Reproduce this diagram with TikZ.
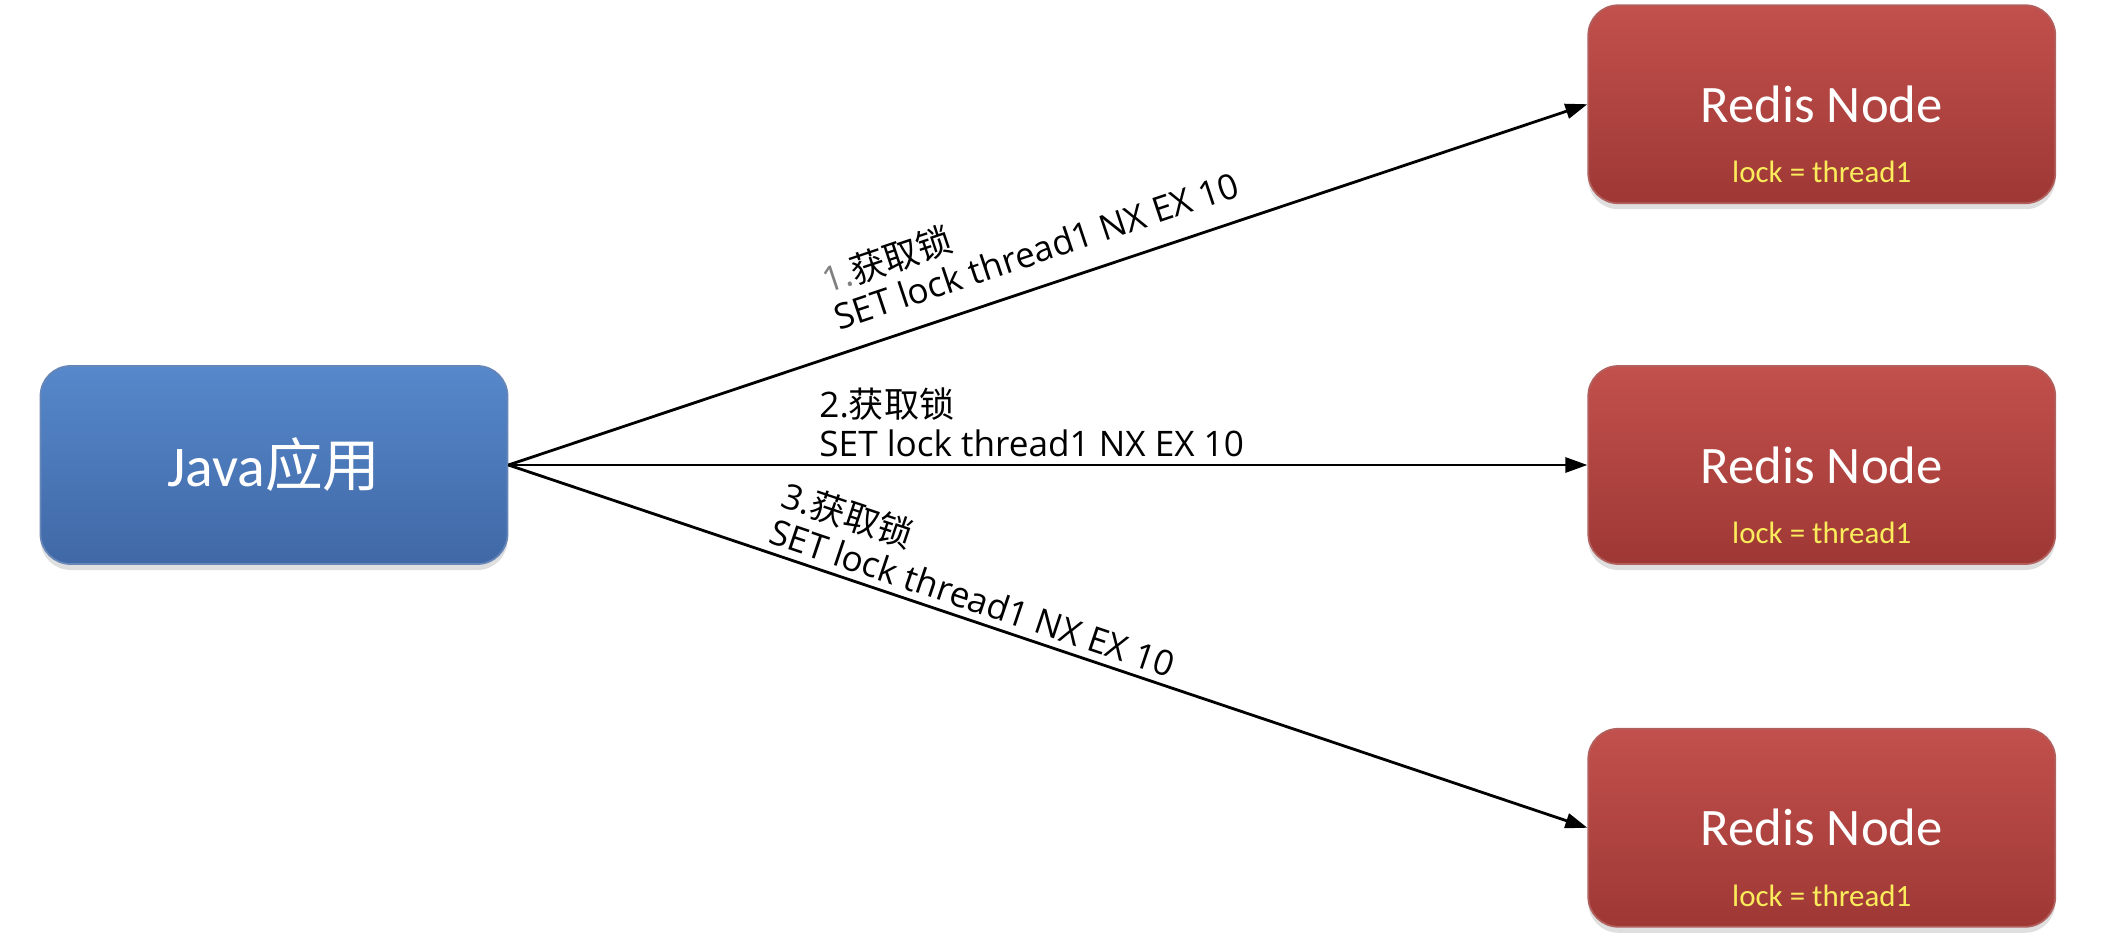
\documentclass[tikz,border=0pt]{standalone}
\usepackage{fontspec}
\setmainfont{Open Sans}
\newfontfamily\calibri{Carlito}
\newfontfamily\cjk{Noto Sans CJK SC}
\usetikzlibrary{positioning,arrows.meta,shadows}

\definecolor{javatop}{RGB}{86,136,203}
\definecolor{javabot}{RGB}{64,104,166}
\definecolor{redistop}{RGB}{194,80,76}
\definecolor{redisbot}{RGB}{158,56,53}
\definecolor{lockyellow}{RGB}{250,236,90}

\begin{document}
\begin{tikzpicture}[
  box/.style={rectangle,rounded corners=0.3cm,minimum width=4.67cm,minimum height=1.98cm,
    draw=#1bot!80!white,line width=0.5pt,top color=#1top,bottom color=#1bot,text=white,
    drop shadow={opacity=0.25,shadow xshift=0pt,shadow yshift=-0.06cm}},
  title/.style={font=\calibri\fontsize{15}{18}\selectfont},
  lock/.style={text=lockyellow,font=\calibri\fontsize{8.8}{10}\selectfont,inner sep=0pt},
  arr/.style={-{Triangle[length=0.22cm,width=0.15cm]},line width=0.8pt},
  lab/.style={sloped,above,align=left,inner sep=2pt,font=\fontsize{10}{11}\selectfont}]
\useasboundingbox (0,0) rectangle (21.12,9.4);

% client and the three redis nodes
\node[box=java,font=\calibri\fontsize{16.4}{19}\selectfont] (java) at (2.74,4.75) {Java{\cjk 应用}};
\node[box=redis,title,right=10.79cm of java] (r2) {Redis Node};
\node[box=redis,title,above=1.61cm of r2] (r1) {Redis Node};
\node[box=redis,title,below=1.63cm of r2] (r3) {Redis Node};
\node[lock] (l1) at ([yshift=-0.68cm]r1.center) {lock = thread1};
\node[lock] (l2) at ([yshift=-0.68cm]r2.center) {lock = thread1};
\node[lock] (l3) at ([yshift=-0.68cm]r3.center) {lock = thread1};

% lock requests
\draw[arr] (java.east) -- node[lab,pos=0.5,above=4pt] (t1) {\textcolor{gray}{1.}{\cjk 获取锁}\\SET lock thread1 NX EX 10} (r1.west);
\draw[arr] (java.east) -- node[lab,pos=0.485] (t2) {2.{\cjk 获取锁}\\SET lock thread1 NX EX 10} (r2.west);
\draw[arr] (java.east) -- node[lab,pos=0.424] (t3) {3.{\cjk 获取锁}\\SET lock thread1 NX EX 10} (r3.west);
\end{tikzpicture}
\end{document}
